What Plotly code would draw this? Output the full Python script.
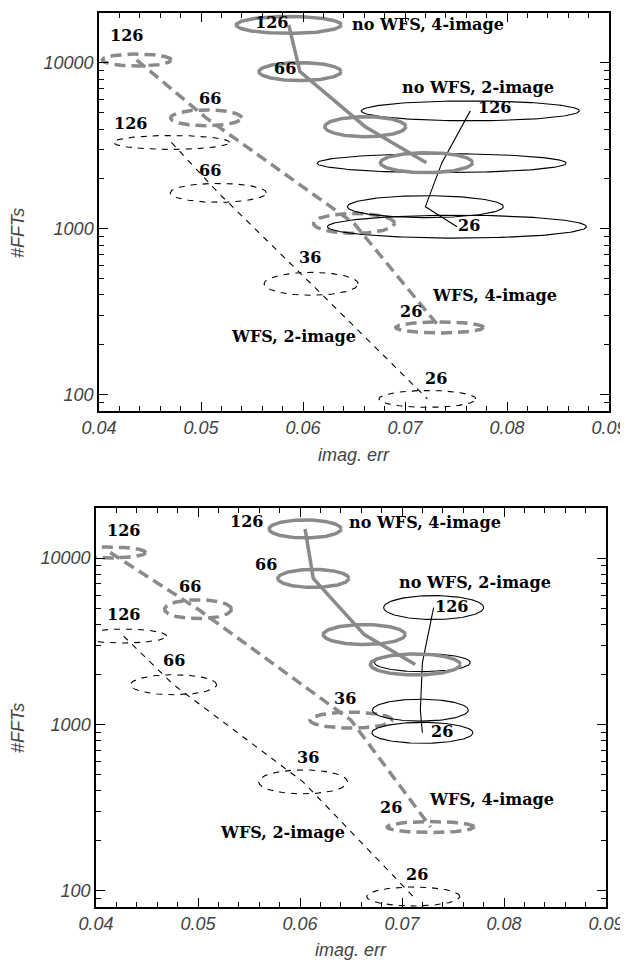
import numpy as np
import plotly.graph_objects as go

# ---------------- data ----------------
# panel 1 (top)
p1_nowfs4_x = [0.0586, 0.0597, 0.0661, 0.0721]
p1_nowfs4_y = [16950, 8870, 4130, 2507]
p1_nowfs4_dx = [0.00515, 0.00402, 0.00397, 0.00451]
p1_nowfs4_dlog = [0.051, 0.054, 0.060, 0.060]

p1_nowfs2_x = [0.0764, 0.0736, 0.0720, 0.0751]
p1_nowfs2_y = [5145, 2490, 1362, 1032]
p1_nowfs2_dx = [0.01069, 0.01221, 0.00765, 0.01270]
p1_nowfs2_dlog = [0.060, 0.057, 0.066, 0.069]

p1_wfs4_x = [0.0437, 0.0505, 0.0650, 0.0734]
p1_wfs4_y = [10420, 4670, 1080, 255]
p1_wfs4_dx = [0.00338, 0.00348, 0.00397, 0.00431]
p1_wfs4_dlog = [0.036, 0.048, 0.060, 0.033]

p1_wfs2_x = [0.0471, 0.0517, 0.0608, 0.0722]
p1_wfs2_y = [3320, 1650, 467, 94.6]
p1_wfs2_dx = [0.00569, 0.00471, 0.00461, 0.00475]
p1_wfs2_dlog = [0.042, 0.057, 0.069, 0.051]

# panel 2 (bottom)
p2_nowfs4_x = [0.0605, 0.0613, 0.0663, 0.0713]
p2_nowfs4_y = [14970, 7550, 3470, 2295]
p2_nowfs4_dx = [0.00353, 0.00348, 0.00402, 0.00441]
p2_nowfs4_dlog = [0.054, 0.054, 0.060, 0.063]

p2_nowfs2_x = [0.0731, 0.0720, 0.0718, 0.0720]
p2_nowfs2_y = [5045, 2353, 1219, 891]
p2_nowfs2_dx = [0.0049, 0.0047, 0.0047, 0.00495]
p2_nowfs2_dlog = [0.072, 0.054, 0.066, 0.063]

p2_wfs4_x = [0.0414, 0.0500, 0.0650, 0.0728]
p2_wfs4_y = [10800, 4930, 1062, 242]
p2_wfs4_dx = [0.00348, 0.00328, 0.00402, 0.00426]
p2_wfs4_dlog = [0.033, 0.057, 0.048, 0.033]

p2_wfs2_x = [0.0427, 0.0476, 0.0603, 0.0711]
p2_wfs2_y = [3400, 1734, 452, 92.5]
p2_wfs2_dx = [0.00422, 0.00422, 0.00436, 0.00456]
p2_wfs2_dlog = [0.042, 0.060, 0.072, 0.057]

x_ticks = [0.04, 0.05, 0.06, 0.07, 0.08, 0.09]
y_ticks = [100, 1000, 10000]

# text labels: (text, x, log10 y)
p1_labels = [
    ("126", 0.0569, 4.241), ("66", 0.0582, 3.964), ("no WFS, 4-image", 0.0723, 4.229),
    ("no WFS, 2-image", 0.0772, 3.855), ("126", 0.0788, 3.729), ("26", 0.0763, 3.018),
    ("126", 0.0427, 4.163), ("66", 0.0509, 3.783), ("126", 0.0431, 3.633),
    ("66", 0.0509, 3.355), ("36", 0.0607, 2.825), ("WFS, 4-image", 0.0788, 2.596),
    ("26", 0.0706, 2.500), ("WFS, 2-image", 0.0591, 2.349), ("26", 0.0730, 2.096),
]
p2_labels = [
    ("126", 0.0548, 4.217), ("no WFS, 4-image", 0.0723, 4.211), ("66", 0.0567, 3.964),
    ("no WFS, 2-image", 0.0772, 3.855), ("126", 0.0749, 3.711), ("26", 0.0739, 2.958),
    ("126", 0.0427, 4.163), ("66", 0.0492, 3.831), ("126", 0.0427, 3.663),
    ("66", 0.0476, 3.386), ("36", 0.0644, 3.157), ("36", 0.0608, 2.801),
    ("WFS, 4-image", 0.0788, 2.548), ("26", 0.0689, 2.500), ("WFS, 2-image", 0.0583, 2.349),
    ("26", 0.0715, 2.096),
]

# ---------------- styles ----------------
GRAY = "#8a8a8a"
styles = {
    "nowfs4": dict(color=GRAY, width=3.5, dash="solid"),
    "nowfs2": dict(color="black", width=1.1, dash="solid"),
    "wfs4": dict(color=GRAY, width=3.5, dash="11px,6px"),
    "wfs2": dict(color="black", width=1.1, dash="6px,6px"),
}

# page offset (browser body margin) and figure size
OFF = 8
W, H = 620, 953


def px(x):
    return (x - OFF) / W


def py(y):
    return 1 - (y - OFF) / H


t = np.linspace(0, 2 * np.pi, 161)


def ellipses(xc, yc, dx, dlog):
    xs, ys = [], []
    for cx, cy, a, b in zip(xc, yc, dx, dlog):
        xs += list(cx + a * np.cos(t)) + [None]
        ys += list(10 ** (np.log10(cy) + b * np.sin(t))) + [None]
    return xs, ys


fig = go.Figure()

panels = [
    ("x", "y", {
        "nowfs4": (p1_nowfs4_x, p1_nowfs4_y, p1_nowfs4_dx, p1_nowfs4_dlog),
        "nowfs2": (p1_nowfs2_x, p1_nowfs2_y, p1_nowfs2_dx, p1_nowfs2_dlog),
        "wfs4": (p1_wfs4_x, p1_wfs4_y, p1_wfs4_dx, p1_wfs4_dlog),
        "wfs2": (p1_wfs2_x, p1_wfs2_y, p1_wfs2_dx, p1_wfs2_dlog),
    }, p1_labels),
    ("x2", "y2", {
        "nowfs4": (p2_nowfs4_x, p2_nowfs4_y, p2_nowfs4_dx, p2_nowfs4_dlog),
        "nowfs2": (p2_nowfs2_x, p2_nowfs2_y, p2_nowfs2_dx, p2_nowfs2_dlog),
        "wfs4": (p2_wfs4_x, p2_wfs4_y, p2_wfs4_dx, p2_wfs4_dlog),
        "wfs2": (p2_wfs2_x, p2_wfs2_y, p2_wfs2_dx, p2_wfs2_dlog),
    }, p2_labels),
]

annotations = []
for xa, ya, series, labels in panels:
    for key in ["wfs2", "wfs4", "nowfs2", "nowfs4"]:
        xc, yc, dx, dl = series[key]
        st = styles[key]
        ex, ey = ellipses(xc, yc, dx, dl)
        fig.add_trace(go.Scatter(x=ex, y=ey, mode="lines", line=st, xaxis=xa, yaxis=ya,
                                 showlegend=False, hoverinfo="skip"))
        fig.add_trace(go.Scatter(x=xc, y=yc, mode="lines", line=st, xaxis=xa, yaxis=ya,
                                 showlegend=False))
    for txt, lx, ly in labels:
        annotations.append(dict(text=txt, x=lx, y=ly, xref=xa, yref=ya, showarrow=False,
                                xanchor="center", yanchor="middle",
                                font=dict(family="DejaVu Serif", size=16, color="black",
                                          weight="bold")))

tickfont = dict(family="Liberation Sans", size=18, color="#444444", style="italic")
titlefont = dict(family="Liberation Sans", size=18, color="#444444", style="italic")

for txt, ax, ay, ang in [("imag. err", 354, 455, 0), ("imag. err", 351, 950, 0),
                         ("#FFTs", 18, 233, -90), ("#FFTs", 18, 728, -90)]:
    annotations.append(dict(text=txt, x=px(ax), y=py(ay), xref="paper", yref="paper",
                            showarrow=False, xanchor="center", yanchor="middle",
                            textangle=ang, font=titlefont))

xcommon = dict(range=[0.04, 0.09], tickvals=x_ticks, ticktext=["%.2f" % v for v in x_ticks],
               ticks="inside", ticklen=9, tickcolor="black", tickwidth=1,
               minor=dict(dtick=0.002, tick0=0.04, ticks="inside", ticklen=5, tickcolor="black"),
               showline=True, linecolor="black", linewidth=1.5, mirror="allticks",
               showgrid=False, zeroline=False, tickfont=tickfont, automargin=False)
ycommon = dict(type="log", range=[np.log10(80), np.log10(20000)], tickvals=y_ticks,
               ticktext=[str(v) for v in y_ticks],
               ticks="inside", ticklen=9, tickcolor="black", tickwidth=1,
               minor=dict(dtick="D1", ticks="inside", ticklen=5, tickcolor="black"),
               showline=True, linecolor="black", linewidth=1.5, mirror="allticks",
               showgrid=False, zeroline=False, tickfont=tickfont, automargin=False)

fig.update_layout(
    width=W, height=H,
    margin=dict(l=0, r=0, t=0, b=0),
    paper_bgcolor="white", plot_bgcolor="white",
    xaxis=dict(domain=[px(99), px(609)], anchor="y", **xcommon),
    yaxis=dict(domain=[py(411), py(13)], anchor="x", **ycommon),
    xaxis2=dict(domain=[px(96), px(606)], anchor="y2", **xcommon),
    yaxis2=dict(domain=[py(907), py(508)], anchor="x2", **ycommon),
    annotations=annotations,
    showlegend=False,
)

fig.write_html("out.html")
